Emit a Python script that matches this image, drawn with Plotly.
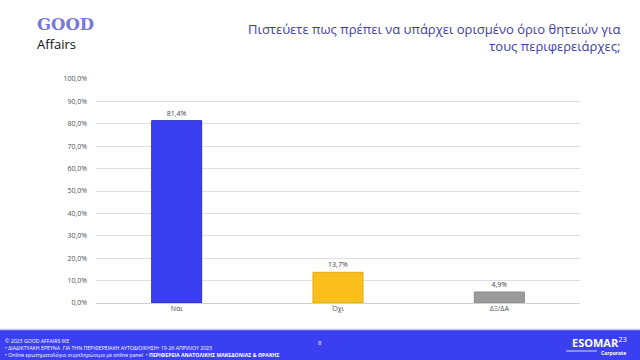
import plotly.graph_objects as go

categories = ["Ναι", "Όχι", "ΔΞ/ΔΑ"]
values = [81.4, 13.7, 4.9]
labels = ["81,4%", "13,7%", "4,9%"]
colors = ["#3b3ff2", "#fbbf1c", "#9b9b9b"]
edge_colors = ["#2c30b8", "#e0a810", "#8a8a8a"]
tick_vals = [0, 10, 20, 30, 40, 50, 60, 70, 80, 90, 100]
tick_text = [f"{v},0%" for v in tick_vals]

L, T, PW, PH = 96, 79, 484, 224
def px(x):
    return (x - L) / PW
def py(y):
    return 1 - (y - T) / PH

fig = go.Figure()
fig.add_trace(go.Bar(
    x=categories, y=values, marker=dict(color=colors, line=dict(width=1, color=edge_colors)),
    text=labels, textposition="outside", cliponaxis=False,
    textfont=dict(size=7, color="#404040", family="Open Sans"),
    width=0.31,
))

fig.update_layout(
    width=640, height=360,
    margin=dict(l=L, r=640 - L - PW, t=T, b=360 - T - PH),
    paper_bgcolor="white", plot_bgcolor="white",
    showlegend=False,
    xaxis=dict(showgrid=False, showline=False, ticks="",
               tickfont=dict(size=7, color="#505050", family="Open Sans")),
    yaxis=dict(range=[0, 100], tickvals=tick_vals, ticktext=tick_text,
               showgrid=True, gridcolor="#e0e0e0", gridwidth=1,
               zeroline=True, zerolinecolor="#d0d0d0", zerolinewidth=1,
               tickfont=dict(size=7, color="#505050", family="Open Sans"),
               ticks="", ticklabelstandoff=8),
    font=dict(family="Open Sans"),
)

# Footer band
fig.add_shape(type="rect", xref="paper", yref="paper",
              x0=px(0), x1=px(640), y0=py(361), y1=py(330),
              fillcolor="#3b3ff2", line=dict(width=0), layer="above")
fig.add_shape(type="line", xref="paper", yref="paper",
              x0=px(0), x1=px(640), y0=py(329.5), y1=py(329.5),
              line=dict(color="#c4c7f7", width=1.5))
fig.add_shape(type="line", xref="paper", yref="paper",
              x0=px(566), x1=px(597), y0=py(351), y1=py(351),
              line=dict(color="white", width=0.8))

ann = []
ann.append(dict(text="Πιστεύετε πως πρέπει να υπάρχει ορισμένο όριο θητειών για<br>τους περιφερειάρχες;",
                xref="paper", yref="paper", x=px(622), y=py(18),
                xanchor="right", yanchor="top", align="right", showarrow=False,
                font=dict(size=13, color="#3c3ca8", family="Open Sans")))
ann.append(dict(text="<b>GOOD</b>", xref="paper", yref="paper",
                x=px(35), y=py(25), xanchor="left", yanchor="middle",
                showarrow=False, font=dict(size=16.5, color="#7878d8", family="DejaVu Serif")))
ann.append(dict(text="Affairs", xref="paper", yref="paper",
                x=px(35), y=py(44), xanchor="left", yanchor="middle",
                showarrow=False, font=dict(size=13, color="#111111", family="Open Sans")))
ann.append(dict(text="© 2023 GOOD AFFAIRS IKE<br>• ΔΙΑΔΙΚΤΥΑΚΗ ΕΡΕΥΝΑ  ΓΙΑ ΤΗΝ ΠΕΡΙΦΕΡΕΙΑΚΗ ΑΥΤΟΔΙΟΙΚΗΣΗ• 19-26 ΑΠΡΙΛΙΟΥ 2023<br>• Online ερωτηματολόγιο συμπληρώσιμο με online panel  • <b>ΠΕΡΙΦΕΡΕΙΑ ΑΝΑΤΟΛΙΚΗΣ ΜΑΚΕΔΟΝΙΑΣ & ΘΡΑΚΗΣ</b>",
                xref="paper", yref="paper", x=px(3), y=py(334.5),
                xanchor="left", yanchor="top", align="left", showarrow=False,
                font=dict(size=5.2, color="white", family="Open Sans")))
ann.append(dict(text="8", xref="paper", yref="paper", x=px(320), y=py(343),
                xanchor="center", yanchor="middle", showarrow=False,
                font=dict(size=6, color="white", family="Open Sans")))
ann.append(dict(text="<b>ESOMAR</b><sup>23</sup>", xref="paper", yref="paper",
                x=px(629), y=py(342), xanchor="right", yanchor="middle",
                showarrow=False, font=dict(size=11, color="white", family="Open Sans")))
ann.append(dict(text="<b>Corporate</b>", xref="paper", yref="paper",
                x=px(628), y=py(353), xanchor="right", yanchor="middle",
                showarrow=False, font=dict(size=5, color="white", family="Open Sans")))
fig.update_layout(annotations=ann)

fig.write_html("out.html", config={"displayModeBar": False},
               post_script="document.body.style.margin='0';")
